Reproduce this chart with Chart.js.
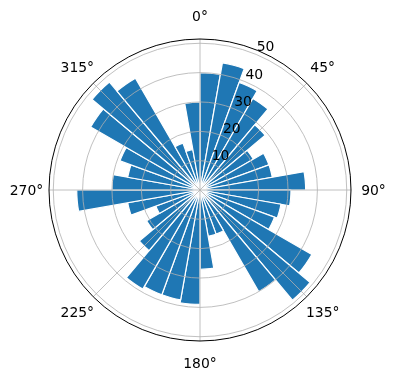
<!DOCTYPE html>
<html>
<head>
<meta charset="utf-8">
<script src="https://cdn.jsdelivr.net/npm/chart.js@4.4.0/dist/chart.umd.min.js"></script>
<style>
html,body{margin:0;padding:0;background:#fff;}
#wrap{width:396px;height:380px;position:relative;}
</style>
</head>
<body>
<div id="wrap"><canvas id="c"></canvas></div>
<script>
// Direction bins (10° each, clockwise from north)
const binLabels = ['0°','10°','20°','30°','40°','50°','60°','70°','80°','90°','100°','110°',
  '120°','130°','140°','150°','160°','170°','180°','190°','200°','210°','220°','230°',
  '240°','250°','260°','270°','280°','290°','300°','310°','320°','330°','340°','350°'];
const counts = [40, 44, 39, 36, 29, 21, 25, 25, 36, 31, 28, 27,
  44, 49, 40, 16, 16, 27, 39, 38, 38, 39, 27, 21,
  16, 25, 42, 30, 25, 29, 43, 48, 44, 17, 14, 30];
const radialTicks = [10, 20, 30, 40, 50];
const radialTickLabels = ['10', '20', '30', '40', '50'];
const thetaTicks = [0, 45, 90, 135, 180, 225, 270, 315];
const thetaTickLabels = ['0°', '45°', '90°', '135°', '180°', '225°', '270°', '315°'];
const rMax = 51.45;
const rLabelAngle = 22.5;

const FONT = '13.9px "DejaVu Sans", sans-serif';

const polarDecor = {
  id: 'polarDecor',
  afterDatasetsDraw(chart) {
    const s = chart.scales.r, ctx = chart.ctx;
    const cx = s.xCenter, cy = s.yCenter;
    const R = s.getDistanceFromCenterForValue(rMax);
    ctx.save();
    ctx.strokeStyle = '#b0b0b0';
    ctx.lineWidth = 0.8;
    thetaTicks.forEach(a => {
      const t = a * Math.PI / 180;
      ctx.beginPath();
      ctx.moveTo(cx, cy);
      ctx.lineTo(cx + R * Math.sin(t), cy - R * Math.cos(t));
      ctx.stroke();
    });
    ctx.restore();
  },
  afterDraw(chart) {
    const s = chart.scales.r, ctx = chart.ctx;
    const cx = s.xCenter, cy = s.yCenter;
    const R = s.getDistanceFromCenterForValue(rMax);
    ctx.save();
    ctx.fillStyle = '#000';
    ctx.font = FONT;
    // radial tick labels
    ctx.textAlign = 'left';
    ctx.textBaseline = 'alphabetic';
    const ta = rLabelAngle * Math.PI / 180;
    radialTicks.forEach((v, i) => {
      const r = s.getDistanceFromCenterForValue(v);
      const px = cx + r * Math.sin(ta), py = cy - r * Math.cos(ta);
      ctx.fillText(radialTickLabels[i], px + 0.5, py - 3);
    });
    // angular tick labels
    ctx.textAlign = 'center';
    ctx.textBaseline = 'middle';
    const LR = R + 22.5;
    thetaTicks.forEach((a, i) => {
      const t = a * Math.PI / 180;
      ctx.fillText(thetaTickLabels[i], cx + LR * Math.sin(t), cy - LR * Math.cos(t) + 1);
    });
    ctx.restore();
  }
};

new Chart(document.getElementById('c'), {
  type: 'polarArea',
  data: {
    labels: binLabels,
    datasets: [{
      data: counts,
      backgroundColor: '#1f77b4',
      borderColor: '#ffffff',
      borderWidth: 1.2
    }]
  },
  options: {
    responsive: true,
    maintainAspectRatio: false,
    animation: false,
    startAngle: 0,
    layout: { padding: { left: 49, top: 39, right: 45, bottom: 39 } },
    plugins: { legend: { display: false }, tooltip: { enabled: false } },
    scales: {
      r: {
        min: 0,
        max: rMax,
        startAngle: 0,
        afterBuildTicks: (scale) => {
          scale.ticks = [0].concat(radialTicks, [rMax]).map(v => ({ value: v }));
        },
        ticks: { display: false },
        pointLabels: { display: false },
        angleLines: { display: false },
        grid: {
          circular: true,
          z: 1,
          lineWidth: (c) => (c.tick && c.tick.value >= rMax) ? 1 : 0.8,
          color: (c) => (c.tick && c.tick.value >= rMax) ? '#000000' : '#b0b0b0'
        }
      }
    }
  },
  plugins: [polarDecor]
});
</script>
</body>
</html>
